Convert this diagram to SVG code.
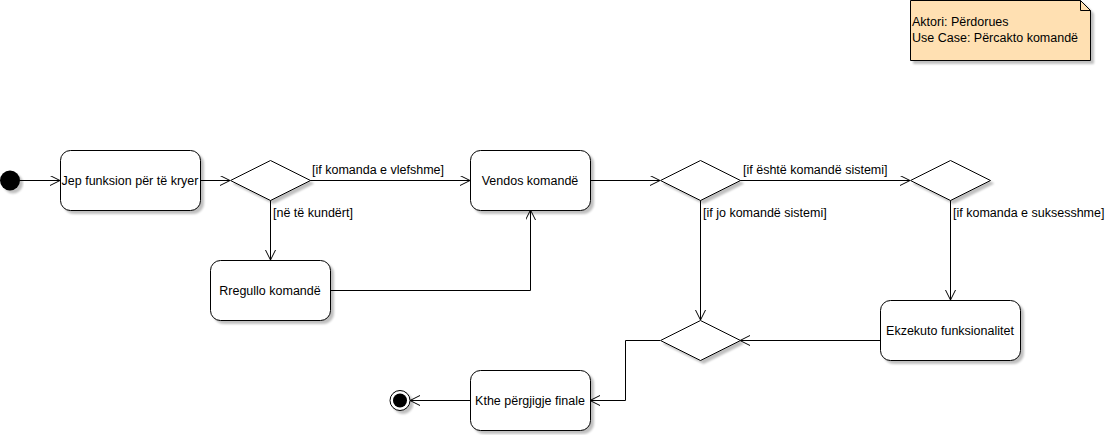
<svg xmlns="http://www.w3.org/2000/svg" width="1111" height="435" viewBox="0 0 1111 435">
<style>
text{font-family:"Liberation Sans",Arial,sans-serif;font-size:12.5px;fill:#000}
.c{text-anchor:middle}
.n{fill:#fff;stroke:#000;stroke-width:1}
.e{fill:none;stroke:#000;stroke-width:1}
</style>
<defs>
<filter id="sh" x="-10%" y="-10%" width="130%" height="140%">
<feGaussianBlur in="SourceAlpha" stdDeviation="1"/>
<feOffset dx="3" dy="3" result="b"/>
<feComponentTransfer><feFuncA type="linear" slope="0.25"/></feComponentTransfer>
<feMerge><feMergeNode/><feMergeNode in="SourceGraphic"/></feMerge>
</filter>
<marker id="a" markerWidth="12" markerHeight="12" refX="10" refY="5" orient="auto" markerUnits="userSpaceOnUse" viewBox="0 0 12 12">
<path d="M0,0 L10,5 L0,10" fill="none" stroke="#000" stroke-width="1"/>
</marker>
</defs>
<g id="edges">
<line class="e" x1="20" y1="180.5" x2="60" y2="180.5" marker-end="url(#a)"/>
<line class="e" x1="200" y1="180.5" x2="230" y2="180.5" marker-end="url(#a)"/>
<line class="e" x1="310" y1="180.5" x2="470" y2="180.5" marker-end="url(#a)"/>
<line class="e" x1="270.5" y1="200" x2="270.5" y2="260" marker-end="url(#a)"/>
<polyline class="e" points="330,290.5 530.5,290.5 530.5,210" marker-end="url(#a)"/>
<line class="e" x1="590" y1="180.5" x2="660" y2="180.5" marker-end="url(#a)"/>
<line class="e" x1="740" y1="180.5" x2="910" y2="180.5" marker-end="url(#a)"/>
<line class="e" x1="700.5" y1="200" x2="700.5" y2="320" marker-end="url(#a)"/>
<line class="e" x1="950.5" y1="200" x2="950.5" y2="300" marker-end="url(#a)"/>
<line class="e" x1="880" y1="340.5" x2="740" y2="340.5" marker-end="url(#a)"/>
<polyline class="e" points="660,340.5 625.5,340.5 625.5,400.5 590,400.5" marker-end="url(#a)"/>
<line class="e" x1="470" y1="400.5" x2="410" y2="400.5" marker-end="url(#a)"/>
<text x="312" y="174">[if komanda e vlefshme]</text>
<text x="273" y="217">[në të kundërt]</text>
<text x="743" y="174">[if është komandë sistemi]</text>
<text x="703" y="217">[if jo komandë sistemi]</text>
<text x="953" y="217">[if komanda e suksesshme]</text>
</g>
<g id="start"><circle cx="10" cy="180.5" r="10" fill="#000" filter="url(#sh)"/></g>
<g id="jep"><rect class="n" x="60.5" y="150.5" width="140" height="60" rx="10" filter="url(#sh)"/><text class="c" x="130" y="185">Jep funksion për të kryer</text></g>
<g id="d1"><polygon class="n" points="270.5,160.5 310.5,180.5 270.5,200.5 230.5,180.5" filter="url(#sh)"/></g>
<g id="vendos"><rect class="n" x="470.5" y="150.5" width="120" height="60" rx="10" filter="url(#sh)"/><text class="c" x="530" y="185">Vendos komandë</text></g>
<g id="rregullo"><rect class="n" x="210.5" y="260.5" width="120" height="60" rx="10" filter="url(#sh)"/><text class="c" x="270" y="295">Rregullo komandë</text></g>
<g id="d2"><polygon class="n" points="700.5,160.5 740.5,180.5 700.5,200.5 660.5,180.5" filter="url(#sh)"/></g>
<g id="d3"><polygon class="n" points="950.5,160.5 990.5,180.5 950.5,200.5 910.5,180.5" filter="url(#sh)"/></g>
<g id="ekzekuto"><rect class="n" x="880.5" y="300.5" width="140" height="60" rx="10" filter="url(#sh)"/><text class="c" x="950" y="335">Ekzekuto funksionalitet</text></g>
<g id="d4"><polygon class="n" points="700.5,320.5 740.5,340.5 700.5,360.5 660.5,340.5" filter="url(#sh)"/></g>
<g id="kthe"><rect class="n" x="470.5" y="370.5" width="120" height="60" rx="10" filter="url(#sh)"/><text class="c" x="530" y="405">Kthe përgjigje finale</text></g>
<g id="end"><circle cx="400" cy="400.5" r="10" fill="#fff" stroke="#000" filter="url(#sh)"/><circle cx="400" cy="400.5" r="7" fill="#000"/></g>
<g id="note"><path d="M910.5,0.5 L1080.5,0.5 L1090.5,10.5 L1090.5,60.5 L910.5,60.5 Z" fill="#ffe0b2" stroke="#000" filter="url(#sh)"/><path d="M1080.5,0.5 L1080.5,10.5 L1090.5,10.5" fill="none" stroke="#000"/><text x="912" y="26">Aktori: Përdorues</text><text x="912" y="42">Use Case: Përcakto komandë</text></g>
</svg>
